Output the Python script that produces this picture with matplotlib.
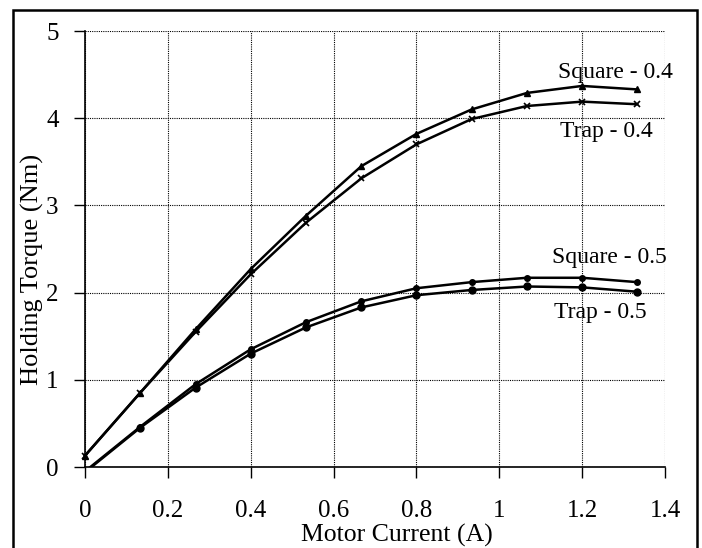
import matplotlib
matplotlib.use("Agg")
import matplotlib.pyplot as plt
from matplotlib.patches import Rectangle

plt.rcParams['font.family'] = ['Liberation Serif', 'DejaVu Serif']

current = [0, 0.133, 0.267, 0.4, 0.533, 0.667, 0.8, 0.933, 1.067, 1.2, 1.333]
square_04 = [0.13, 0.85, 1.58, 2.27, 2.88, 3.45, 3.82, 4.10, 4.29, 4.37, 4.33]
trap_04 = [0.13, 0.85, 1.55, 2.21, 2.80, 3.31, 3.70, 3.99, 4.14, 4.19, 4.16]
square_05 = [-0.05, 0.46, 0.95, 1.35, 1.66, 1.90, 2.05, 2.12, 2.17, 2.17, 2.12]
trap_05 = [-0.06, 0.45, 0.91, 1.30, 1.60, 1.83, 1.97, 2.03, 2.07, 2.06, 2.01]

x_ticks = [0, 0.2, 0.4, 0.6, 0.8, 1, 1.2, 1.4]
x_tick_labels = ['0', '0.2', '0.4', '0.6', '0.8', '1', '1.2', '1.4']
y_ticks = [0, 1, 2, 3, 4, 5]

labels = ['Square - 0.4', 'Trap - 0.4', 'Square - 0.5', 'Trap - 0.5']
label_pos = [(1.28, 4.52), (1.258, 3.85), (1.266, 2.40), (1.243, 1.77)]

fig = plt.figure(figsize=(7.02, 5.48), dpi=100)
ax = fig.add_axes([85/702, 81/548, 580/702, 436/548])

ax.plot(current, square_04, color='black', lw=1.8, marker='^', ms=5, clip_on=False, zorder=3)
ax.plot(current, trap_04, color='black', lw=1.8, marker='x', ms=5, mew=1.2, clip_on=False, zorder=3)
ax.plot(current, square_05, color='black', lw=1.8, marker='o', ms=4, zorder=3)
ax.plot(current, trap_05, color='black', lw=1.8, marker='o', ms=5, zorder=3)

ax.set_xlim(0, 1.4)
ax.set_ylim(0, 5)
ax.set_xticks(x_ticks)
ax.set_xticklabels(x_tick_labels)
ax.set_yticks(y_ticks)
ax.tick_params(axis='both', direction='out', length=8, width=1, labelsize=18, color='black')
ax.tick_params(axis='x', pad=16)
ax.tick_params(axis='y', pad=11)
ax.grid(True, color='black', linestyle=(0, (1, 1)), lw=0.8)
ax.spines['top'].set_visible(False)
ax.spines['right'].set_visible(False)
ax.spines['left'].set_linewidth(1.2)
ax.spines['bottom'].set_linewidth(1.2)

for txt, (tx, ty) in zip(labels, label_pos):
    ax.text(tx, ty, txt, ha='center', va='center', fontsize=17)

fig.text(397/702, 1 - 535/548, 'Motor Current (A)', ha='center', va='center', fontsize=18.5)
fig.text(32/702, 1 - 269/548, 'Holding Torque (Nm)', ha='center', va='center', fontsize=19, rotation=90)

border = Rectangle((12.5/702, -0.02), (697 - 12.5)/702, 1.02 - 10/548,
                   transform=fig.transFigure, fill=False, edgecolor='black', lw=1.8)
fig.patches.append(border)

fig.savefig('out.png', dpi=100)
